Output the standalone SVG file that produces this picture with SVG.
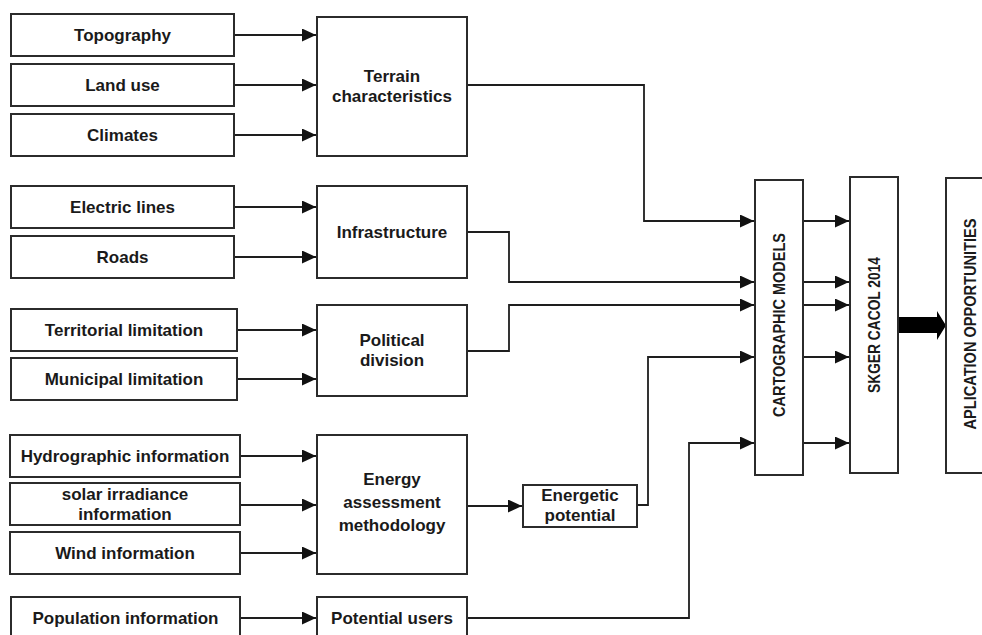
<svg xmlns="http://www.w3.org/2000/svg" width="982" height="635" viewBox="0 0 982 635">
<style>
.box{fill:#fff;stroke:#2b2b2b;stroke-width:2}
.t{font-family:"Liberation Sans",Arial,sans-serif;font-weight:bold;font-size:17px;fill:#1a1a1a;text-anchor:middle}
.v{font-family:"Liberation Sans",Arial,sans-serif;font-weight:bold;font-size:16px;fill:#1a1a1a;text-anchor:middle}
.c{fill:none;stroke:#1e1e1e;stroke-width:1.8}
</style>
<defs>
<marker id="ah" markerUnits="userSpaceOnUse" markerWidth="15" markerHeight="13" refX="14" refY="6.5" orient="auto">
<path d="M0,0 L14,6.5 L0,13 z" fill="#111"/>
</marker>
</defs>
<rect width="982" height="635" fill="#fff"/>

<g id="connectors">
<path class="c" d="M234,35 H316" marker-end="url(#ah)"/>
<path class="c" d="M234,85 H316" marker-end="url(#ah)"/>
<path class="c" d="M234,135 H316" marker-end="url(#ah)"/>
<path class="c" d="M234,207 H316" marker-end="url(#ah)"/>
<path class="c" d="M234,257 H316" marker-end="url(#ah)"/>
<path class="c" d="M237,330 H316" marker-end="url(#ah)"/>
<path class="c" d="M237,379 H316" marker-end="url(#ah)"/>
<path class="c" d="M240,456 H316" marker-end="url(#ah)"/>
<path class="c" d="M240,505 H316" marker-end="url(#ah)"/>
<path class="c" d="M240,553 H316" marker-end="url(#ah)"/>
<path class="c" d="M240,618 H316" marker-end="url(#ah)"/>
<path class="c" d="M467,506 H522" marker-end="url(#ah)"/>
<path class="c" d="M467,85 H644 V221 H754" marker-end="url(#ah)"/>
<path class="c" d="M467,232 H509 V282 H754" marker-end="url(#ah)"/>
<path class="c" d="M467,351 H509 V305 H754" marker-end="url(#ah)"/>
<path class="c" d="M637,505 H648 V357 H754" marker-end="url(#ah)"/>
<path class="c" d="M467,618 H689 V443 H754" marker-end="url(#ah)"/>
<path class="c" d="M803,221 H849" marker-end="url(#ah)"/>
<path class="c" d="M803,282 H849" marker-end="url(#ah)"/>
<path class="c" d="M803,305 H849" marker-end="url(#ah)"/>
<path class="c" d="M803,357 H849" marker-end="url(#ah)"/>
<path class="c" d="M803,443 H849" marker-end="url(#ah)"/>
<path d="M898,317 H937 V311 L946,325.5 L937,340 V333 H898 z" fill="#000"/>
</g>

<g id="topography"><rect class="box" x="11" y="14" width="223" height="42"/><text class="t" x="122.5" y="41">Topography</text></g>
<g id="land-use"><rect class="box" x="11" y="64" width="223" height="42"/><text class="t" x="122.5" y="91">Land use</text></g>
<g id="climates"><rect class="box" x="11" y="114" width="223" height="42"/><text class="t" x="122.5" y="141">Climates</text></g>
<g id="terrain"><rect class="box" x="317" y="17" width="150" height="139"/><text class="t" x="392" y="82">Terrain</text><text class="t" x="392" y="102">characteristics</text></g>

<g id="electric-lines"><rect class="box" x="11" y="186" width="223" height="42"/><text class="t" x="122.5" y="213">Electric lines</text></g>
<g id="roads"><rect class="box" x="11" y="236" width="223" height="42"/><text class="t" x="122.5" y="263">Roads</text></g>
<g id="infrastructure"><rect class="box" x="317" y="186" width="150" height="92"/><text class="t" x="392" y="238">Infrastructure</text></g>

<g id="territorial"><rect class="box" x="11" y="309" width="226" height="42"/><text class="t" x="124" y="336">Territorial limitation</text></g>
<g id="municipal"><rect class="box" x="11" y="358" width="226" height="42"/><text class="t" x="124" y="385">Municipal limitation</text></g>
<g id="political"><rect class="box" x="317" y="305" width="150" height="91"/><text class="t" x="392" y="346">Political</text><text class="t" x="392" y="366">division</text></g>

<g id="hydrographic"><rect class="box" x="10" y="435" width="230" height="42"/><text class="t" x="125" y="462">Hydrographic information</text></g>
<g id="solar"><rect class="box" x="10" y="483" width="230" height="42"/><text class="t" x="125" y="500">solar irradiance</text><text class="t" x="125" y="520">information</text></g>
<g id="wind"><rect class="box" x="10" y="532" width="230" height="42"/><text class="t" x="125" y="559">Wind information</text></g>
<g id="energy"><rect class="box" x="317" y="435" width="150" height="139"/><text class="t" x="392" y="485">Energy</text><text class="t" x="392" y="508">assessment</text><text class="t" x="392" y="531">methodology</text></g>
<g id="energetic"><rect class="box" x="523" y="485" width="114" height="42"/><text class="t" x="580" y="501">Energetic</text><text class="t" x="580" y="521">potential</text></g>

<g id="population"><rect class="box" x="11" y="597" width="229" height="50"/><text class="t" x="125.5" y="624">Population information</text></g>
<g id="potential-users"><rect class="box" x="317" y="597" width="150" height="50"/><text class="t" x="392" y="624">Potential users</text></g>

<g id="cartographic"><rect class="box" x="755" y="180" width="48" height="295"/><text class="v" transform="translate(779,325) rotate(-90)" y="6" textLength="184" lengthAdjust="spacingAndGlyphs">CARTOGRAPHIC MODELS</text></g>
<g id="skger"><rect class="box" x="850" y="177" width="48" height="296"/><text class="v" transform="translate(874,325) rotate(-90)" y="6" textLength="136" lengthAdjust="spacingAndGlyphs">SKGER CACOL 2014</text></g>
<g id="aplication"><rect class="box" x="946" y="178" width="50" height="295"/><text class="v" transform="translate(969.5,324) rotate(-90)" y="6" textLength="211" lengthAdjust="spacingAndGlyphs">APLICATION OPPORTUNITIES</text></g>
</svg>
